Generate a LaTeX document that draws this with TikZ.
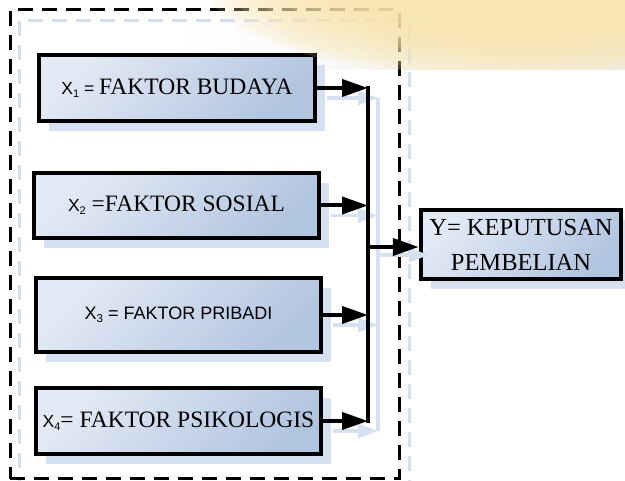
\documentclass[tikz,border=0pt]{standalone}
\usepackage{fontspec}
\setmainfont{Liberation Serif}
\newfontfamily\arialf{Liberation Sans}
\usetikzlibrary{arrows.meta,shadows}
\definecolor{boxlight}{HTML}{E3EAF5}
\definecolor{boxdark}{HTML}{B2C5E0}
\definecolor{shadowc}{HTML}{D5E0F0}
\definecolor{faintc}{HTML}{D3DEEF}
\definecolor{blobc}{HTML}{FCE6AE}
\newcommand{\xsub}[1]{{\arialf\fontsize{17.5}{17.5}\selectfont X\raisebox{-3pt}{\fontsize{11}{11}\selectfont #1}}}
\tikzset{
  factor/.style={draw=black, line width=4.5pt, top color=boxlight, bottom color=boxdark,
    shading angle=45, inner sep=0pt, align=center,
    font=\fontsize{23.5}{35}\selectfont,
    general shadow={shadow xshift=10pt, shadow yshift=-10pt, fill=shadowc}},
  arr/.style={line width=4pt, -{Triangle[length=26pt,width=17pt]}},
  sarr/.style={draw=shadowc, line width=3.5pt, -{Triangle[length=20pt,width=14pt]}},
  grpbox/.style={draw=black, line width=3pt, dash pattern=on 15pt off 9pt},
  faintbox/.style={draw=faintc, line width=3pt, dash pattern=on 15pt off 9pt}
}
\begin{document}
\begin{tikzpicture}[x=1pt,y=-1pt]
\useasboundingbox (0,0) rectangle (625,481);
\shade[left color=white, right color=black!7] (173,0) rectangle (625,70);
% frames
\draw[faintbox] (19,21) rectangle (409,495);
\node[grpbox, minimum width=389pt, minimum height=469pt, inner sep=0pt] (grp) at (204.5,244.5) {};
% boxes
\node[factor, minimum width=276pt, minimum height=66pt] (b1) at (177,88)
  {\xsub{1}{\arialf\fontsize{17.5}{17.5}\selectfont{} = }FAKTOR BUDAYA};
\node[factor, minimum width=285pt, minimum height=65pt] (b2) at (176.5,205.5)
  {\xsub{2} =FAKTOR SOSIAL};
\node[factor, minimum width=285pt, minimum height=74pt] (b3) at (178.5,315)
  {{\arialf\fontsize{18}{18}\selectfont X\raisebox{-3pt}{\fontsize{11.5}{11.5}\selectfont 3} = FAKTOR PRIBADI}};
\node[factor, minimum width=285pt, minimum height=66pt] (b4) at (178.5,421)
  {\xsub{4}= FAKTOR PSIKOLOGIS};
\node[factor, minimum width=200pt, minimum height=69pt, font=\fontsize{24.5}{35}\selectfont] (y) at (521,244.5)
  {Y= KEPUTUSAN\\PEMBELIAN};
% junction line coordinates
\coordinate (vt) at (368,88);
\coordinate (vb) at (368,421);
\coordinate (vm) at (368,247);
\coordinate (svt) at (378,98);
\coordinate (svb) at (378,431);
\coordinate (svm) at (378,255);
% shadow connectors
\path ([shift={(10,10)}]b1.east) coordinate (s1)
      ([shift={(10,10)}]b2.east) coordinate (s2)
      ([shift={(10,10)}]b3.east) coordinate (s3)
      ([shift={(10,10)}]b4.east) coordinate (s4);
\draw[draw=shadowc, line width=3.5pt] (svt) -- (svb);
\draw[sarr] (s1) -- (s1 -| svt);
\draw[sarr] (s2) -- (s2 -| svt);
\draw[sarr] (s3) -- (s3 -| svt);
\draw[sarr] (s4) -- (s4 -| svt);
\draw[sarr] (svm) -- ([xshift=10pt]svm -| y.west);
% connectors
\draw[line width=4pt, line cap=rect] (vt) -- (vb);
\draw[arr] (b1.east) -- (b1.east -| vt);
\draw[arr] (b2.east) -- (b2.east -| vt);
\draw[arr] (b3.east) -- (b3.east -| vt);
\draw[arr] (b4.east) -- (b4.east -| vt);
\draw[arr] (vm) -- (vm -| y.west);
% background blob (soft, built from stacked translucent ellipses)
\begin{scope}
\clip (0,0) rectangle (625,70);
\foreach \k in {0,...,13}
  \fill[blobc, opacity=0.16] (515,-18) ellipse [x radius={310pt-12pt*\k}, y radius={98pt-3.8pt*\k}];
\end{scope}
\end{tikzpicture}
\end{document}
